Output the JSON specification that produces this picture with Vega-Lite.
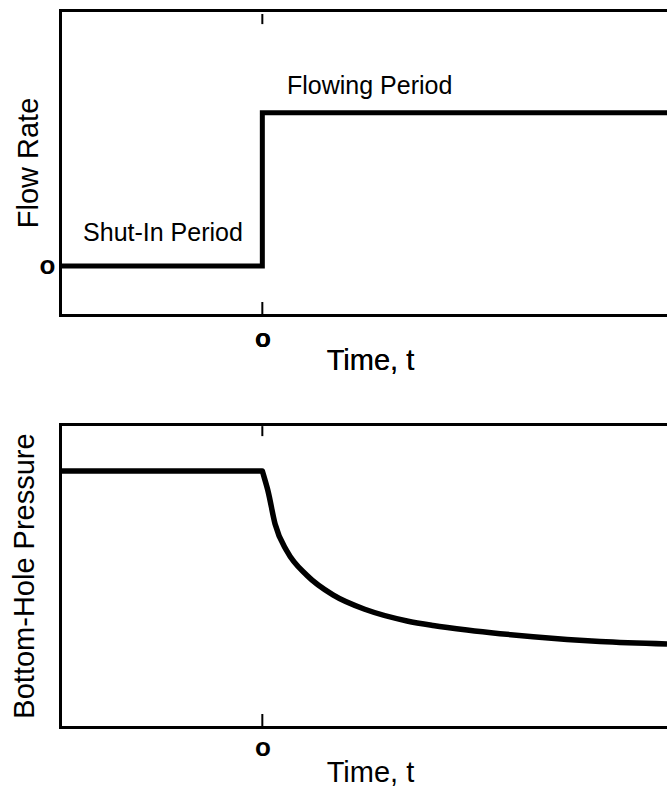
{
  "$schema": "https://vega.github.io/schema/vega-lite/v6.json",
  "background": "white",
  "padding": {"left": 10, "top": 10, "right": 0, "bottom": 0},
  "spacing": 49,
  "config": {
    "view": {"stroke": null},
    "font": "Liberation Sans",
    "axis": {
      "domainColor": "black", "domainWidth": 3, "domainCap": "square",
      "tickColor": "black", "tickWidth": 2, "grid": false,
      "labelColor": "black", "titleColor": "black",
      "labelFont": "Liberation Sans", "titleFont": "Liberation Sans",
      "titleFontWeight": "normal", "titleFontSize": 29,
      "labelFontSize": 26, "labelFontWeight": "bold"
    }
  },
  "vconcat": [
    {
      "width": 607, "height": 305,
      "layer": [
        {
          "data": {"values": [
            {"t": -1, "q": 0}, {"t": 0, "q": 1}, {"t": 2, "q": 1}
          ]},
          "mark": {"type": "line", "interpolate": "step-after", "color": "black", "strokeWidth": 5},
          "encoding": {
            "x": {"field": "t", "type": "quantitative",
                  "scale": {"domain": [-1, 2], "nice": false, "zero": false},
                  "axis": {"orient": "bottom", "values": [0], "labelExpr": "'o'", "ticks": false, "labelPadding": 10, "title": "Time, t", "titleBaseline": "alphabetic", "titleY": 54, "titleX": 310}},
            "y": {"field": "q", "type": "quantitative",
                  "scale": {"domain": [-0.32, 1.67], "nice": false, "zero": false},
                  "axis": {"values": [0], "labelExpr": "'o'", "ticks": false, "labelPadding": 5, "title": "Flow Rate", "titleBaseline": "alphabetic", "titleX": -23}}
          }
        },
        {
          "data": {"values": [
            {"t": 0.122, "q": 1.122, "label": "Flowing Period"},
            {"t": -0.886, "q": 0.163, "label": "Shut-In Period"}
          ]},
          "mark": {"type": "text", "align": "left", "baseline": "alphabetic", "fontSize": 25, "font": "Liberation Sans", "color": "black"},
          "encoding": {
            "x": {"field": "t", "type": "quantitative",
                  "axis": {"orient": "bottom", "values": [0], "labelExpr": "'o'", "ticks": false, "labelPadding": 10, "title": "Time, t", "titleBaseline": "alphabetic", "titleY": 54, "titleX": 310}},
            "y": {"field": "q", "type": "quantitative",
                  "axis": {"values": [0], "labelExpr": "'o'", "ticks": false, "labelPadding": 5, "title": "Flow Rate", "titleBaseline": "alphabetic", "titleX": -23}},
            "text": {"field": "label"}
          }
        },
        {
          "data": {"values": [
            {"t": 0, "lo": -0.32, "hi": -0.235},
            {"t": 0, "lo": 1.578, "hi": 1.644}
          ]},
          "mark": {"type": "rule", "color": "black", "strokeWidth": 2},
          "encoding": {
            "x": {"field": "t", "type": "quantitative",
                  "axis": {"orient": "top", "labels": false, "ticks": false, "title": null}},
            "y": {"field": "lo", "type": "quantitative",
                  "axis": {"values": [0], "labelExpr": "'o'", "ticks": false, "labelPadding": 5, "title": "Flow Rate", "titleBaseline": "alphabetic", "titleX": -23}},
            "y2": {"field": "hi"}
          }
        }
      ]
    },
    {
      "width": 607, "height": 303,
      "layer": [
        {
          "data": {"values": [
            {"t": -1, "p": 84.5},
            {"t": 0, "p": 84.5},
            {"t": 0.003, "p": 83.8},
            {"t": 0.028, "p": 77.9},
            {"t": 0.063, "p": 67.0},
            {"t": 0.122, "p": 58.0},
            {"t": 0.221, "p": 50.0},
            {"t": 0.349, "p": 43.6},
            {"t": 0.517, "p": 38.6},
            {"t": 0.715, "p": 35.0},
            {"t": 0.844, "p": 33.5},
            {"t": 1.012, "p": 32.0},
            {"t": 1.175, "p": 30.8},
            {"t": 1.338, "p": 29.8},
            {"t": 1.506, "p": 28.9},
            {"t": 1.669, "p": 28.2},
            {"t": 2.0, "p": 27.4}
          ]},
          "mark": {"type": "line", "interpolate": "monotone", "color": "black", "strokeWidth": 5.5},
          "encoding": {
            "x": {"field": "t", "type": "quantitative",
                  "scale": {"domain": [-1, 2], "nice": false, "zero": false},
                  "axis": {"orient": "bottom", "values": [0], "labelExpr": "'o'", "ticks": false, "labelPadding": 7, "title": "Time, t", "titleBaseline": "alphabetic", "titleY": 54, "titleX": 310}},
            "y": {"field": "p", "type": "quantitative",
                  "scale": {"domain": [0, 100], "nice": false, "zero": false},
                  "axis": {"labels": false, "ticks": false, "title": "Bottom-Hole Pressure", "titleBaseline": "alphabetic", "titleX": -27}}
          }
        },
        {
          "data": {"values": [
            {"t": 0, "lo": 0.3, "hi": 4.3},
            {"t": 0, "lo": 96.0, "hi": 99.3}
          ]},
          "mark": {"type": "rule", "color": "black", "strokeWidth": 2},
          "encoding": {
            "x": {"field": "t", "type": "quantitative",
                  "axis": {"orient": "top", "labels": false, "ticks": false, "title": null}},
            "y": {"field": "lo", "type": "quantitative",
                  "axis": {"labels": false, "ticks": false, "title": "Bottom-Hole Pressure", "titleBaseline": "alphabetic", "titleX": -27}},
            "y2": {"field": "hi"}
          }
        }
      ]
    }
  ]
}
